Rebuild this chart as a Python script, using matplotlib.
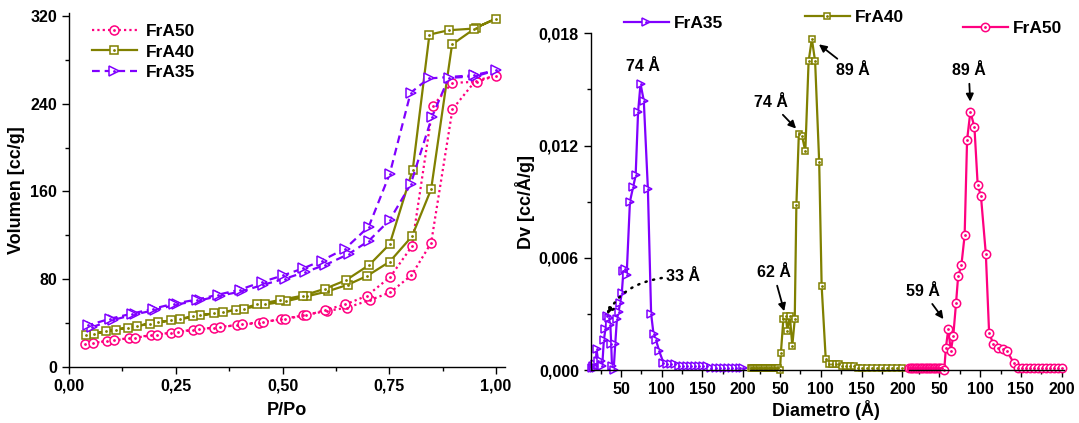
import numpy as np
import matplotlib.pyplot as plt
from matplotlib.ticker import MultipleLocator, FuncFormatter

plt.rcParams['font.family'] = ['Liberation Sans', 'DejaVu Sans']
plt.rcParams['font.weight'] = 'bold'
plt.rcParams['axes.labelweight'] = 'bold'
plt.rcParams['axes.linewidth'] = 1.0

pink = '#FF0080'
olive = '#808000'
violet = '#8000FF'

# N2 isotherms: adsorption branch followed by desorption branch
p_fra50 = [0.038, 0.09, 0.141, 0.191, 0.24, 0.29, 0.34, 0.393, 0.444, 0.497, 0.548, 0.603, 0.65,
           0.705, 0.752, 0.802, 0.848, 0.898, 0.952, 1.0,
           0.955, 0.897, 0.852, 0.803, 0.752, 0.698, 0.647, 0.60, 0.556, 0.506, 0.455, 0.405,
           0.354, 0.305, 0.255, 0.205, 0.155, 0.106, 0.057]
v_fra50 = [21.3, 23.7, 26.4, 28.9, 31.3, 34, 35.9, 38, 40.4, 43.5, 47, 51, 54,
           61, 68, 83.6, 113, 235, 261, 265.6,
           260, 259, 238, 110, 82, 65, 57, 52, 47, 44, 41, 38.9,
           36.5, 34.3, 31.9, 29.5, 26.7, 24.3, 22]

p_fra40 = [0.059, 0.109, 0.159, 0.209, 0.26, 0.307, 0.36, 0.409, 0.459, 0.509, 0.557, 0.606, 0.653,
           0.698, 0.751, 0.803, 0.848, 0.897, 0.952, 1.0,
           0.948, 0.889, 0.844, 0.805, 0.751, 0.703, 0.648, 0.6, 0.547, 0.493, 0.441, 0.391,
           0.34, 0.29, 0.24, 0.19, 0.139, 0.087, 0.039]
v_fra40 = [30.4, 34, 37.4, 41, 43.5, 47, 50, 53, 57, 60, 64.4, 69, 75,
           83, 96, 119, 162, 294, 309, 317.6,
           308.5, 307, 303, 180, 112, 93, 79, 71.4, 65, 61, 57, 52,
           49, 46.2, 42.5, 39.5, 35.9, 32.5, 28.9]

p_fra35 = [0.055, 0.104, 0.155, 0.202, 0.252, 0.307, 0.354, 0.405, 0.455, 0.506, 0.553, 0.6, 0.655,
           0.702, 0.751, 0.8, 0.85, 0.889, 0.952, 1.0,
           0.948, 0.842, 0.8, 0.751, 0.702, 0.647, 0.592, 0.549, 0.502, 0.452, 0.4, 0.35,
           0.299, 0.245, 0.196, 0.147, 0.096, 0.045]
v_fra35 = [36.5, 43, 48, 52, 57, 60.8, 65, 69, 75, 80.5, 86.6, 93, 103,
           115, 134, 166.5, 228, 263.5, 265, 270.5,
           266, 263, 250, 176, 128, 108, 97, 90, 83.6, 77.5, 70.5, 66,
           61.4, 57.7, 53, 48.6, 44, 38]

# BJH pore size distributions
d_fra35 = [15, 16, 17, 18, 19, 20, 22, 25, 27, 29, 31, 33, 35, 37, 38, 39, 41, 43, 45, 47, 49,
           51, 53, 55, 57, 61, 65, 68, 71, 74, 78, 83, 87, 90, 93, 97, 102,
           106, 111, 116, 121, 126, 131, 136, 141, 146, 151, 156, 161, 166, 171, 176, 181,
           186, 191, 196, 200]
dv_fra35 = [0.0001, 0.0002, 0.0001, 0.0003, 0.0001, 0.0011, 0.0005, 0.0005, 0.0002, 0.0016,
            0.0022, 0.0029, 0.0028, 0.0024, 0.0014, 0.0002, 0.0, 0.0014, 0.0027, 0.0031, 0.0036,
            0.0041, 0.0053, 0.0054, 0.0051, 0.0090, 0.0098, 0.0104, 0.0138, 0.0153, 0.0144,
            0.0097, 0.0030, 0.0019, 0.0016, 0.0010, 0.0004,
            0.0003, 0.0003, 0.0003, 0.0002, 0.0002, 0.0002, 0.0002, 0.0002, 0.0002, 0.0002,
            0.0002, 0.0001, 0.0001, 0.0001, 0.0001, 0.0001, 0.0001, 0.0001, 0.0001, 0.0001]

d_fra40 = [14, 16, 18, 20, 22, 24, 26, 28, 30, 32, 34, 36, 38, 40, 42, 44, 46, 48,
           50, 51, 54, 57, 59, 62, 65, 68, 70, 73, 77, 81, 85, 89, 93, 98, 101, 106,
           110, 114, 118, 122, 126, 131, 136, 141, 146, 151, 157, 163, 169, 175, 181,
           187, 193, 200]
dv_fra40 = [0.0001, 0.0001, 0.0001, 0.0001, 0.0001, 0.0001, 0.0001, 0.0001, 0.0001, 0.0001,
            0.0001, 0.0001, 0.0001, 0.0001, 0.0001, 0.0001, 0.0001, 0.0001,
            0.0, 0.0009, 0.0027, 0.0029, 0.0021, 0.0029, 0.0013, 0.0027, 0.0088, 0.0126,
            0.0125, 0.0117, 0.0165, 0.0177, 0.0165, 0.0111, 0.0045, 0.0006,
            0.0003, 0.0003, 0.0003, 0.0003, 0.0002, 0.0002, 0.0002, 0.0002, 0.0001, 0.0001,
            0.0001, 0.0001, 0.0001, 0.0001, 0.0001, 0.0001, 0.0001, 0.0001]

d_fra50 = [13, 15, 17, 19, 21, 23, 25, 27, 29, 31, 33, 35, 37, 39, 41, 43, 45, 47, 49, 51, 53,
           56, 58, 61, 64, 67, 70.5, 73, 77, 81, 84, 88, 93, 97, 101, 107, 111, 116, 122,
           128, 133, 141, 146, 151, 156, 161, 166, 171, 176, 181, 186, 191, 196, 200]
dv_fra50 = [0.0001, 0.0001, 0.0001, 0.0001, 0.0001, 0.0001, 0.0001, 0.0001, 0.0001, 0.0001,
            0.0001, 0.0001, 0.0001, 0.0001, 0.0001, 0.0001, 0.0001, 0.0001, 0.0001, 0.0001, 0.0001,
            0.0, 0.0012, 0.0022, 0.0010, 0.0018, 0.0036, 0.0050, 0.0056, 0.0072, 0.0123,
            0.0138, 0.0130, 0.0099, 0.0093, 0.0062, 0.0020, 0.0014, 0.0012,
            0.0011, 0.0010, 0.0004, 0.0001, 0.0001, 0.0001, 0.0001, 0.0001, 0.0001, 0.0001,
            0.0001, 0.0001, 0.0001, 0.0001, 0.0001]


def draw(ax, x, y, color, marker, ms, ls, lw=1.6):
    # open Origin-style symbol with a small dot in the middle
    line, = ax.plot(x, y, color=color, ls=ls, lw=lw, marker=marker, ms=ms,
                    mfc='white', mec=color, mew=1.1, clip_on=False)
    dots, = ax.plot(x, y, ls='none', marker='o', ms=1.0, color=color, clip_on=False)
    return (line, dots)


W, H = 1079, 423
fig = plt.figure(figsize=(W / 100, H / 100), dpi=100)


def px_axes(left, top, right, bottom):
    return fig.add_axes([left / W, 1 - bottom / H, (right - left) / W, (bottom - top) / H])


def comma(fmt):
    return FuncFormatter(lambda v, pos: (fmt % v).replace('.', ','))


# ---- isotherms ----
ax1 = px_axes(69, 13, 505, 367)
h50 = draw(ax1, p_fra50, v_fra50, pink, 'o', 6.5, (0, (1, 1.4)))
h40 = draw(ax1, p_fra40, v_fra40, olive, 's', 5.2, '-')
h35 = draw(ax1, p_fra35, v_fra35, violet, '>', 6.5, (0, (3.5, 2.2)))
ax1.set_xlim(0, 1.021)
ax1.set_ylim(0, 322.7)
ax1.xaxis.set_major_locator(MultipleLocator(0.25))
ax1.xaxis.set_minor_locator(MultipleLocator(0.125))
ax1.yaxis.set_major_locator(MultipleLocator(80))
ax1.yaxis.set_minor_locator(MultipleLocator(40))
ax1.xaxis.set_major_formatter(comma('%.2f'))
ax1.tick_params(which='major', length=5, width=1, labelsize=11.5)
ax1.tick_params(which='minor', length=3, width=1)
for s in ('top', 'right'):
    ax1.spines[s].set_visible(False)
ax1.set_xlabel('P/Po', fontsize=13, labelpad=6)
ax1.set_ylabel('Volumen [cc/g]', fontsize=13, labelpad=4)
ax1.legend([h50, h40, h35], ['FrA50', 'FrA40', 'FrA35'], loc='upper left',
           bbox_to_anchor=(83 / W, 1 - 15 / H), bbox_transform=fig.transFigure,
           frameon=False, borderpad=0, fontsize=12.5, handlelength=2.6,
           handletextpad=0.5, labelspacing=0.32)

# ---- pore size distributions ----
lefts = [590.8, 749.9, 909.2]
panels = []
for i, left in enumerate(lefts):
    ax = px_axes(left, 33.3, left + 154.9, 370)
    ax.set_xlim(13, 203)
    ax.set_ylim(0, 0.018)
    ax.set_xticks([50, 100, 150, 200])
    ax.set_xticks([25, 75, 125, 175], minor=True)
    ax.tick_params(which='major', length=5, width=1, labelsize=11.5)
    ax.tick_params(which='minor', length=3, width=1)
    ax.spines['top'].set_visible(False)
    ax.spines['right'].set_visible(False)
    if i == 0:
        ax.yaxis.set_major_locator(MultipleLocator(0.006))
        ax.yaxis.set_minor_locator(MultipleLocator(0.003))
        ax.yaxis.set_major_formatter(comma('%.3f'))
        ax.set_ylabel('Dv [cc/Å/g]', fontsize=13, labelpad=3)
    else:
        ax.spines['left'].set_visible(False)
        ax.set_yticks([])
    ax.patch.set_alpha(0)
    panels.append(ax)

axa, axb, axc = panels
g35 = draw(axa, d_fra35, dv_fra35, violet, '>', 6, '-')
g40 = draw(axb, d_fra40, dv_fra40, olive, 's', 5, '-')
g50 = draw(axc, d_fra50, dv_fra50, pink, 'o', 6, '-')

for ax, h, lab, (lx, ly) in [(axa, g35, 'FrA35', (615, 23.5)),
                             (axb, g40, 'FrA40', (796, 17.5)),
                             (axc, g50, 'FrA50', (954, 28.5))]:
    ax.legend([h], [lab], loc='center left', bbox_to_anchor=(lx / W, 1 - ly / H),
              bbox_transform=fig.transFigure, frameon=False, borderpad=0, fontsize=12.5,
              handlelength=2.6, handletextpad=0.3)

fig.text(826 / W, 1 - 410 / H, 'Diametro (Å)', ha='center', va='center', fontsize=13)

arrow = dict(arrowstyle='-|>', color='black', lw=1.3, mutation_scale=11)
note = dict(fontsize=11.5, fontweight='bold', ha='center', va='center')

# FrA35
axa.text(77, 0.0162, '74 Å', **note)
axa.annotate('33 Å', xy=(33, 0.0029), xytext=(126, 0.0050), fontsize=11.5, fontweight='bold',
             ha='center', va='center',
             arrowprops=dict(arrowstyle='-|>', color='black', lw=1.8, ls=(0, (0.5, 2.6)),
                             mutation_scale=11, connectionstyle='angle3,angleA=0,angleB=65',
                             shrinkA=1, shrinkB=0))
# FrA40
axb.annotate('89 Å', xy=(95, 0.0175), xytext=(139, 0.0160), arrowprops=arrow, **note)
axb.annotate('74 Å', xy=(72, 0.0128), xytext=(39, 0.0143), arrowprops=arrow, **note)
axb.annotate('62 Å', xy=(56, 0.0030), xytext=(42, 0.0052), arrowprops=arrow, **note)
# FrA50
axc.annotate('89 Å', xy=(88, 0.0142), xytext=(86, 0.0160), arrowprops=arrow, **note)
axc.annotate('59 Å', xy=(57, 0.0026), xytext=(30, 0.0042), arrowprops=arrow, **note)

fig.savefig('out.png', dpi=100)
